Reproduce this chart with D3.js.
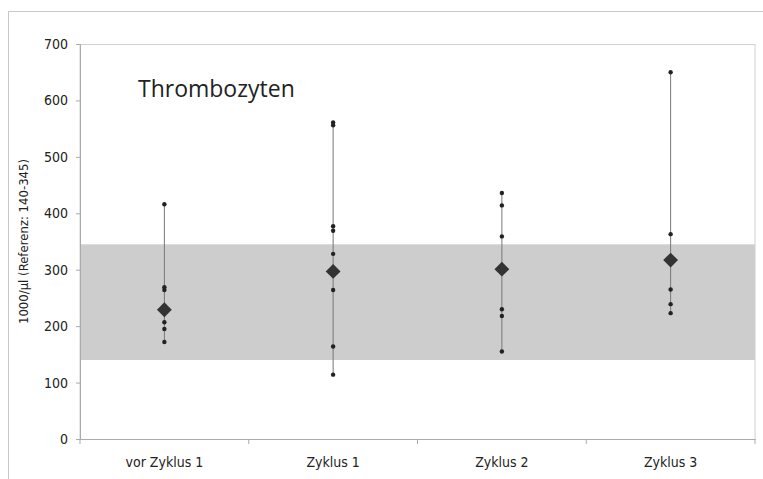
<!DOCTYPE html>
<html>
<head>
<meta charset="utf-8">
<script src="https://cdn.jsdelivr.net/npm/d3@7"></script>
<style>
  body { margin: 0; background: #fff; }
  svg text { fill: #222; }
  .cond { font-family: 'DejaVu Sans Condensed', 'DejaVu Sans', sans-serif; font-stretch: condensed; }
</style>
</head>
<body>
<div id="chart"></div>
<script>
// categories and values
const categories = ["vor Zyklus 1", "Zyklus 1", "Zyklus 2", "Zyklus 3"];
const singleValues = [
  [416, 269, 264, 207, 195, 172],
  [561, 556, 377, 369, 328, 264, 164, 114],
  [436, 414, 359, 230, 218, 155],
  [650, 363, 265, 239, 223]
];
const meanValues = [229, 297, 301, 317];
const refRange = [140, 345];
const yTicks = [0, 100, 200, 300, 400, 500, 600, 700];

const W = 763, H = 479;
const margin = {top: 44, right: 8, bottom: 40, left: 80};
const width = W - margin.left - margin.right,
      height = H - margin.top - margin.bottom;

const svg = d3.select("#chart").append("svg")
  .attr("width", W).attr("height", H);

// outer frame of the chart
svg.append("rect")
  .attr("x", 8.5).attr("y", 11.5)
  .attr("width", W).attr("height", H)
  .attr("fill", "none").attr("stroke", "#c8c8c8");

const g = svg.append("g")
  .attr("transform", `translate(${margin.left},${margin.top})`);

const x = d3.scaleBand().domain(categories).range([0, width]);
const y = d3.scaleLinear().domain([0, 700]).range([height, 0]);

// plot area border
g.append("rect")
  .attr("x", 0).attr("y", 0.5)
  .attr("width", width).attr("height", height)
  .attr("fill", "none").attr("stroke", "#d0d0d0");

// reference band
g.append("rect")
  .attr("x", 0).attr("width", width)
  .attr("y", y(refRange[1])).attr("height", y(refRange[0]) - y(refRange[1]))
  .attr("fill", "#cdcdcd");

// y axis
const yAxis = g.append("g")
  .call(d3.axisLeft(y).tickValues(yTicks).tickSize(4).tickPadding(8));
yAxis.select(".domain").attr("stroke", "#aaa");
yAxis.selectAll(".tick line").attr("stroke", "#aaa");
yAxis.selectAll("text")
  .attr("class", "cond")
  .style("font-size", "14px").attr("fill", "#222");

// x axis with ticks between categories
const xAxis = g.append("g")
  .attr("transform", `translate(0,${height})`)
  .call(d3.axisBottom(x).tickSize(0).tickPadding(18));
xAxis.select(".domain").attr("stroke", "#aaa");
xAxis.selectAll("text")
  .attr("class", "cond")
  .style("font-size", "14px").attr("fill", "#222");
g.append("g").selectAll("line")
  .data(categories.map(c => x(c)).concat([width]))
  .join("line")
  .attr("x1", d => d).attr("x2", d => d)
  .attr("y1", height).attr("y2", height + 5)
  .attr("stroke", "#aaa");

// range lines per category
const groups = categories.map((c, i) => ({cat: c, vals: singleValues[i], mean: meanValues[i]}));
g.append("g").selectAll("line")
  .data(groups)
  .join("line")
  .attr("x1", d => x(d.cat) + x.bandwidth() / 2)
  .attr("x2", d => x(d.cat) + x.bandwidth() / 2)
  .attr("y1", d => y(d3.max(d.vals)))
  .attr("y2", d => y(d3.min(d.vals)))
  .attr("stroke", "#777").attr("stroke-width", 1);

// single values
const pts = groups.flatMap(d => d.vals.map(v => ({cat: d.cat, v: v})));
g.append("g").selectAll("circle")
  .data(pts)
  .join("circle")
  .attr("cx", d => x(d.cat) + x.bandwidth() / 2)
  .attr("cy", d => y(d.v))
  .attr("r", 2.2)
  .attr("fill", "#222");

// mean diamonds
g.append("g").selectAll("path")
  .data(groups)
  .join("path")
  .attr("d", d3.symbol(d3.symbolDiamond2, 140))
  .attr("transform", d => `translate(${x(d.cat) + x.bandwidth() / 2},${y(d.mean)})`)
  .attr("fill", "#333");

// title
g.append("text")
  .attr("x", 58).attr("y", 53)
  .style("font-family", "'Open Sans', sans-serif")
  .style("font-size", "23px")
  .text("Thrombozyten");

// y axis title
svg.append("text")
  .attr("class", "cond")
  .attr("transform", `translate(28,${margin.top + y(350)}) rotate(-90)`)
  .attr("text-anchor", "middle")
  .style("font-size", "13px")
  .text("1000/µl (Referenz: 140-345)");
</script>
</body>
</html>
